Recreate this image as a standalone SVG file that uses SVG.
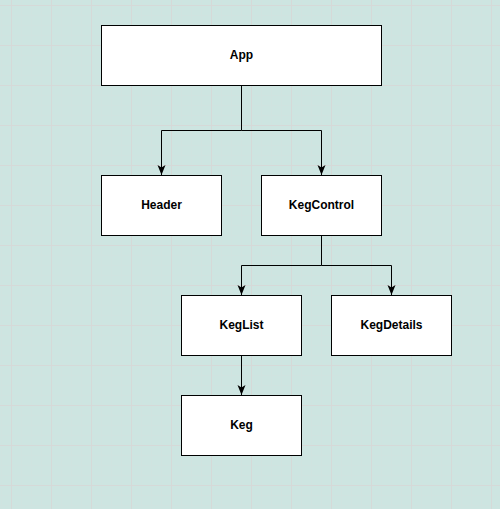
<svg xmlns="http://www.w3.org/2000/svg" width="500" height="509" viewBox="0 0 500 509">
<defs>
<marker id="arr" viewBox="0 0 10 10" refX="10" refY="5" markerWidth="10" markerHeight="10" markerUnits="userSpaceOnUse" orient="auto">
<path d="M0 1 L10 5 L0 9 L2.5 5 Z" fill="#000"/>
</marker>
<style>
.box{fill:#fff;stroke:#000;stroke-width:1}
.lbl{font-family:"Liberation Sans",Arial,sans-serif;font-size:12px;font-weight:bold;text-anchor:middle;fill:#000}
.edge{fill:none;stroke:#000;stroke-width:1;marker-end:url(#arr)}
.minor{fill:none;stroke:#d0e3e0;stroke-width:1}
.major{fill:none;stroke:#d6d9d8;stroke-width:1}
</style>
</defs>
<rect width="500" height="509" fill="#cde5e1"/>
<path class="minor" d="M1.5 0V509M21.5 0V509M31.5 0V509M41.5 0V509M61.5 0V509M71.5 0V509M81.5 0V509M101.5 0V509M111.5 0V509M121.5 0V509M141.5 0V509M151.5 0V509M161.5 0V509M181.5 0V509M191.5 0V509M201.5 0V509M221.5 0V509M231.5 0V509M241.5 0V509M261.5 0V509M271.5 0V509M281.5 0V509M301.5 0V509M311.5 0V509M321.5 0V509M341.5 0V509M351.5 0V509M361.5 0V509M381.5 0V509M391.5 0V509M401.5 0V509M421.5 0V509M431.5 0V509M441.5 0V509M461.5 0V509M471.5 0V509M481.5 0V509
M0 15.5H500M0 25.5H500M0 35.5H500M0 55.5H500M0 65.5H500M0 75.5H500M0 95.5H500M0 105.5H500M0 115.5H500M0 135.5H500M0 145.5H500M0 155.5H500M0 175.5H500M0 185.5H500M0 195.5H500M0 215.5H500M0 225.5H500M0 235.5H500M0 255.5H500M0 265.5H500M0 275.5H500M0 295.5H500M0 305.5H500M0 315.5H500M0 335.5H500M0 345.5H500M0 355.5H500M0 375.5H500M0 385.5H500M0 395.5H500M0 415.5H500M0 425.5H500M0 435.5H500M0 455.5H500M0 465.5H500M0 475.5H500M0 495.5H500M0 505.5H500"/>
<path class="major" d="M11.5 0V509M51.5 0V509M91.5 0V509M131.5 0V509M171.5 0V509M211.5 0V509M251.5 0V509M291.5 0V509M331.5 0V509M371.5 0V509M411.5 0V509M451.5 0V509M491.5 0V509
M0 5.5H500M0 45.5H500M0 85.5H500M0 125.5H500M0 165.5H500M0 205.5H500M0 245.5H500M0 285.5H500M0 325.5H500M0 365.5H500M0 405.5H500M0 445.5H500M0 485.5H500"/>
<g id="connectors">
<path class="edge" d="M241.5 85.5V130.5H161.5V175"/>
<path class="edge" d="M241.5 130.5H321.5V175"/>
<path class="edge" d="M321.5 235.5V265.5H241.5V295"/>
<path class="edge" d="M321.5 265.5H391.5V295"/>
<path class="edge" d="M241.5 355.5V395"/>
</g>
<g id="app"><rect class="box" x="101.5" y="25.5" width="280" height="60"/><text class="lbl" x="241.5" y="59">App</text></g>
<g id="header"><rect class="box" x="101.5" y="175.5" width="120" height="60"/><text class="lbl" x="161.5" y="209">Header</text></g>
<g id="kegcontrol"><rect class="box" x="261.5" y="175.5" width="120" height="60"/><text class="lbl" x="321.5" y="209">KegControl</text></g>
<g id="keglist"><rect class="box" x="181.5" y="295.5" width="120" height="60"/><text class="lbl" x="241.5" y="329">KegList</text></g>
<g id="kegdetails"><rect class="box" x="331.5" y="295.5" width="120" height="60"/><text class="lbl" x="391.5" y="329">KegDetails</text></g>
<g id="keg"><rect class="box" x="181.5" y="395.5" width="120" height="60"/><text class="lbl" x="241.5" y="429">Keg</text></g>
</svg>
